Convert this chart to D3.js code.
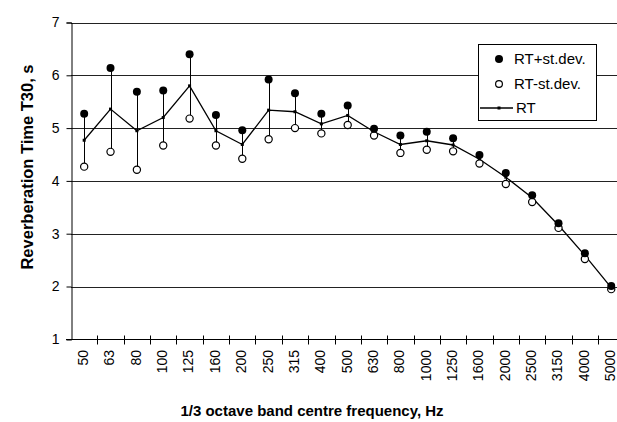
<!DOCTYPE html>
<html>
<head>
<meta charset="utf-8">
<script src="https://cdn.jsdelivr.net/npm/d3@7"></script>
<style>
  html, body { margin: 0; padding: 0; background: #fff; }
  svg { display: block; font-family: "Liberation Sans", Arial, sans-serif; }
</style>
</head>
<body>
<div id="chart"></div>
<script>
const bands = ['50','63','80','100','125','160','200','250','315','400','500','630','800','1000','1250','1600','2000','2500','3150','4000','5000'];
const rtPlus  = [5.27,6.14,5.69,5.71,6.40,5.25,4.96,5.92,5.66,5.27,5.43,4.99,4.86,4.93,4.81,4.49,4.15,3.73,3.20,2.63,2.01];
const rtMinus = [4.27,4.55,4.21,4.67,5.18,4.67,4.42,4.79,5.00,4.90,5.06,4.86,4.53,4.59,4.56,4.33,3.94,3.60,3.11,2.52,1.95];
const rt      = [4.77,5.36,4.95,5.20,5.80,4.95,4.69,5.34,5.31,5.08,5.24,4.93,4.69,4.76,4.68,4.41,4.07,3.68,3.16,2.59,1.98];
const yTicks  = [1,2,3,4,5,6,7];
const legendLabels = ['RT+st.dev.', 'RT-st.dev.', 'RT'];

const W = 617, H = 422;
// plot runs past the right edge of the picture, as in the original
const plotL = 71, plotR = 624.4, plotT = 22.5, plotB = 339.3;

const svg = d3.select('#chart').append('svg')
  .attr('width', W).attr('height', H)
  .style('overflow', 'hidden');

const x = d3.scaleBand().domain(bands).range([plotL, plotR]).padding(0);
const y = d3.scaleLinear().domain([1, 7]).range([plotB, plotT]);
const cx = d => x(d) + x.bandwidth() / 2;

// gridlines
svg.append('g')
  .selectAll('line')
  .data(yTicks.filter(v => v > 1))
  .join('line')
  .attr('x1', plotL).attr('x2', plotR)
  .attr('y1', d => Math.round(y(d)) + 0.5)
  .attr('y2', d => Math.round(y(d)) + 0.5)
  .attr('stroke', '#222')
  .attr('stroke-width', 1);

// y axis
const yAxis = svg.append('g')
  .attr('transform', `translate(${plotL + 0.5},0)`)
  .call(d3.axisLeft(y).tickValues(yTicks).tickFormat(d3.format('d')).tickSize(5).tickPadding(7));
yAxis.select('.domain').attr('stroke', '#000');
yAxis.selectAll('.tick line').attr('stroke', '#000');
yAxis.selectAll('text')
  .attr('font-size', 14)
  .attr('fill', '#000')
  .attr('font-family', '"Liberation Sans", Arial, sans-serif');

// x axis line + crossing ticks at band edges
const xg = svg.append('g');
const yb = Math.round(plotB) + 0.5;
xg.append('line')
  .attr('x1', plotL - 5).attr('x2', plotR)
  .attr('y1', yb).attr('y2', yb)
  .attr('stroke', '#000');
xg.selectAll('.edge')
  .data(bands.slice(1).concat(['__end']))
  .join('line')
  .attr('class', 'edge')
  .attr('x1', d => Math.round(d === '__end' ? plotR : x(d)) + 0.5)
  .attr('x2', d => Math.round(d === '__end' ? plotR : x(d)) + 0.5)
  .attr('y1', yb - 4).attr('y2', yb + 5)
  .attr('stroke', '#000');
xg.selectAll('.xlab')
  .data(bands)
  .join('text')
  .attr('class', 'xlab')
  .attr('transform', d => `translate(${cx(d) - 1},350) rotate(-90)`)
  .attr('text-anchor', 'end')
  .attr('dy', '0.35em')
  .attr('font-size', 14)
  .text(d => d);

// error bars
svg.append('g')
  .selectAll('line')
  .data(bands)
  .join('line')
  .attr('x1', d => Math.round(cx(d)) + 0.5)
  .attr('x2', d => Math.round(cx(d)) + 0.5)
  .attr('y1', (d, i) => y(rtPlus[i]))
  .attr('y2', (d, i) => y(rtMinus[i]))
  .attr('stroke', '#000')
  .attr('stroke-width', 1);

// RT line
svg.append('path')
  .datum(bands)
  .attr('fill', 'none')
  .attr('stroke', '#000')
  .attr('stroke-width', 1.3)
  .attr('d', d3.line().x(d => cx(d)).y((d, i) => y(rt[i])));

svg.append('g')
  .selectAll('rect')
  .data(bands)
  .join('rect')
  .attr('x', d => cx(d) - 1.5)
  .attr('y', (d, i) => y(rt[i]) - 1.5)
  .attr('width', 3).attr('height', 3)
  .attr('fill', '#000');

// markers
svg.append('g')
  .selectAll('circle')
  .data(bands)
  .join('circle')
  .attr('cx', d => cx(d))
  .attr('cy', (d, i) => y(rtMinus[i]))
  .attr('r', 3.6)
  .attr('fill', '#fff')
  .attr('stroke', '#000')
  .attr('stroke-width', 1.2);

svg.append('g')
  .selectAll('circle')
  .data(bands)
  .join('circle')
  .attr('cx', d => cx(d))
  .attr('cy', (d, i) => y(rtPlus[i]))
  .attr('r', 4)
  .attr('fill', '#000');

// legend
const lg = svg.append('g');
lg.append('rect')
  .attr('x', 478.5).attr('y', 44.5)
  .attr('width', 118).attr('height', 76)
  .attr('fill', '#fff')
  .attr('stroke', '#000');
const rowsY = [59, 84, 108];
lg.append('circle').attr('cx', 499).attr('cy', rowsY[0]).attr('r', 4).attr('fill', '#000');
lg.append('circle').attr('cx', 499).attr('cy', rowsY[1]).attr('r', 3.4)
  .attr('fill', '#fff').attr('stroke', '#000').attr('stroke-width', 1.2);
lg.append('line').attr('x1', 480).attr('x2', 513).attr('y1', rowsY[2]).attr('y2', rowsY[2])
  .attr('stroke', '#000').attr('stroke-width', 1.3);
lg.append('rect').attr('x', 497.5).attr('y', rowsY[2] - 1.5).attr('width', 3).attr('height', 3).attr('fill', '#000');
lg.selectAll('text')
  .data(legendLabels)
  .join('text')
  .attr('x', (d, i) => i === 2 ? 516 : 514)
  .attr('y', (d, i) => rowsY[i])
  .attr('dy', '0.35em')
  .attr('font-size', 15)
  .text(d => d);

// titles
svg.append('text')
  .attr('transform', 'translate(27,167) rotate(-90)')
  .attr('text-anchor', 'middle')
  .attr('dy', '0.35em')
  .attr('font-size', 16.5)
  .attr('font-weight', 'bold')
  .text('Reverberation Time T30, s');

svg.append('text')
  .attr('x', 312).attr('y', 416)
  .attr('text-anchor', 'middle')
  .attr('font-size', 15)
  .attr('font-weight', 'bold')
  .text('1/3 octave band centre frequency, Hz');
</script>
</body>
</html>
